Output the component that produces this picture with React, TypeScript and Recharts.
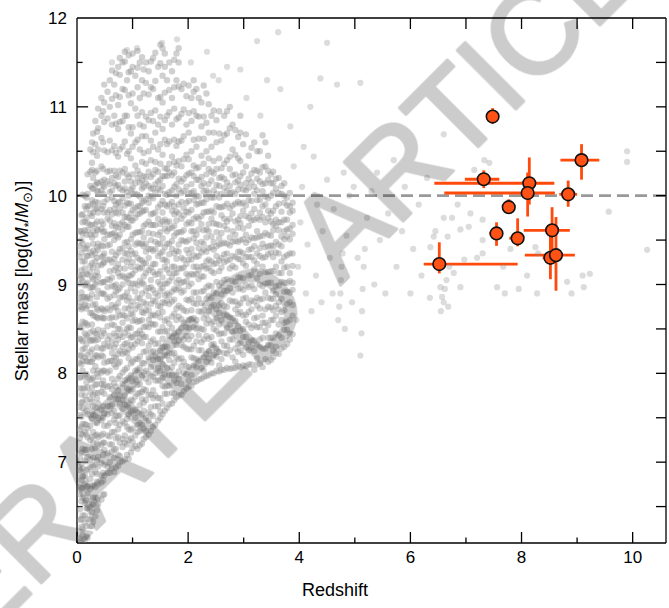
import { ScatterChart, Scatter, XAxis, YAxis, ErrorBar, ReferenceLine } from 'recharts'

const FONT = "'Liberation Sans', Arial, Helvetica, sans-serif"

// axes
const X_MIN = 0
const X_MAX = 10.6
const Y_MIN = 6.09
const Y_MAX = 12
const xLabelTicks = [0, 2, 4, 6, 8, 10]
const yLabelTicks = [7, 8, 9, 10, 11, 12]
const xFrameTicks = [1, 2, 3, 4, 5, 6, 7, 8, 9, 10]
const yFrameTicks = [6.5, 7, 7.5, 8, 8.5, 9, 9.5, 10, 10.5, 11, 11.5]

// background galaxies, low-redshift tail: [z, masses...]
const tailColumns = [
  [0.05, 6.14, 6.35, 6.47, 6.64, 6.72, 6.91, 7.05, 7.27, 7.37, 7.53, 7.62, 7.83, 7.95, 8.12, 8.2, 8.39, 8.53, 8.75, 8.85, 9.01, 9.1, 9.31, 9.43, 9.6],
  [0.1, 6.18, 6.25, 6.4, 6.6, 6.71, 6.84, 6.93, 7.15, 7.31, 7.43, 7.61, 7.68, 7.83, 8.03, 8.14, 8.27, 8.36, 8.58, 8.74, 8.86, 9.04, 9.11, 9.26, 9.46, 9.57, 9.7, 9.79, 10.01],
  [0.14, 6.13, 6.32, 6.4, 6.54, 6.75, 6.85, 7.02, 7.14, 7.34, 7.43, 7.56, 7.75, 7.83, 7.97, 8.18, 8.28, 8.45, 8.57, 8.77, 8.86, 8.99, 9.18, 9.26, 9.4, 9.61, 9.71, 9.88, 10.0],
  [0.19, 6.15, 6.36, 6.48, 6.65, 6.73, 6.92, 7.06, 7.28, 7.38, 7.54, 7.63, 7.84, 7.96, 8.13, 8.21, 8.4, 8.54, 8.76, 8.86, 9.02, 9.11, 9.32, 9.44, 9.61, 9.69, 9.88, 10.02, 10.24],
  [0.24, 6.28, 6.35, 6.5, 6.7, 6.81, 6.94, 7.03, 7.25, 7.41, 7.53, 7.71, 7.78, 7.93, 8.13, 8.24, 8.37, 8.46, 8.68, 8.84, 8.96, 9.14, 9.21, 9.36, 9.56, 9.67, 9.8, 9.89, 10.11, 10.27, 10.52],
  [0.29, 6.33, 6.52, 6.6, 6.74, 6.95, 7.05, 7.22, 7.34, 7.54, 7.63, 7.76, 7.95, 8.03, 8.17, 8.38, 8.48, 8.65, 8.77, 8.97, 9.06, 9.19, 9.38, 9.46, 9.6, 9.81, 9.91, 10.08, 10.2, 10.49, 10.7],
  [0.33, 6.39, 6.6, 6.72, 6.89, 6.97, 7.16, 7.3, 7.52, 7.62, 7.78, 7.87, 8.08, 8.2, 8.37, 8.45, 8.64, 8.78, 9.0, 9.1, 9.26, 9.35, 9.56, 9.68, 9.85, 9.93, 10.12, 10.26, 10.58, 10.84],
  [0.38, 6.53, 6.6, 6.75, 6.95, 7.06, 7.19, 7.28, 7.5, 7.66, 7.78, 7.96, 8.03, 8.18, 8.38, 8.49, 8.62, 8.71, 8.93, 9.09, 9.21, 9.39, 9.46, 9.61, 9.81, 9.92, 10.05, 10.14, 10.52, 10.76, 10.98],
  [0.44, 6.58, 6.77, 6.85, 6.99, 7.2, 7.3, 7.47, 7.59, 7.79, 7.88, 8.01, 8.2, 8.28, 8.42, 8.63, 8.73, 8.9, 9.02, 9.22, 9.31, 9.44, 9.63, 9.71, 9.85, 10.06, 10.16, 10.33, 10.65, 10.9, 11.1],
  [0.49, 6.64, 6.85, 6.97, 7.14, 7.22, 7.41, 7.55, 7.77, 7.87, 8.03, 8.12, 8.33, 8.45, 8.62, 8.7, 8.89, 9.03, 9.25, 9.35, 9.51, 9.6, 9.81, 9.93, 10.1, 10.18, 10.51, 10.83, 11.05, 11.25],
]

// tail, in-between streaks
const tailColumnsB = [
  [0.08, 6.11, 6.27, 6.36, 6.56, 6.7, 6.8, 6.98, 7.11, 7.32, 7.4, 7.51, 7.67, 7.76, 7.96, 8.1, 8.2, 8.38, 8.51, 8.72, 8.8, 8.91, 9.07, 9.16, 9.36, 9.5, 9.6, 9.78],
  [0.17, 6.16, 6.28, 6.48, 6.57, 6.72, 6.91, 7.01, 7.14, 7.31, 7.42, 7.58, 7.7, 7.9, 7.99, 8.14, 8.33, 8.43, 8.56, 8.73, 8.84, 9.0, 9.12, 9.32, 9.41, 9.56, 9.75, 9.85, 9.98],
  [0.27, 6.28, 6.44, 6.53, 6.73, 6.87, 6.97, 7.15, 7.28, 7.49, 7.57, 7.68, 7.84, 7.93, 8.13, 8.27, 8.37, 8.55, 8.68, 8.89, 8.97, 9.08, 9.24, 9.33, 9.53, 9.67, 9.77, 9.95, 10.08, 10.29, 10.37, 10.6],
  [0.36, 6.46, 6.58, 6.78, 6.87, 7.02, 7.21, 7.31, 7.44, 7.61, 7.72, 7.88, 8.0, 8.2, 8.29, 8.44, 8.63, 8.73, 8.86, 9.03, 9.14, 9.3, 9.42, 9.62, 9.71, 9.86, 10.05, 10.15, 10.28, 10.45, 10.72],
  [0.47, 6.63, 6.79, 6.88, 7.08, 7.22, 7.32, 7.5, 7.63, 7.84, 7.92, 8.03, 8.19, 8.28, 8.48, 8.62, 8.72, 8.9, 9.03, 9.24, 9.32, 9.43, 9.59, 9.68, 9.88, 10.02, 10.12, 10.3, 10.6, 10.95],
]

// background galaxies, main body z ~ 0.5-3.9
const coreColumns = [
  [0.55, 6.88, 6.95, 7.1, 7.3, 7.41, 7.54, 7.63, 7.85, 8.01, 8.13, 8.31, 8.38, 8.53, 8.73, 8.84, 8.97, 9.06, 9.28, 9.44, 9.56, 9.74, 9.81, 9.96, 10.16, 10.27, 10.49, 10.87, 11.17],
  [0.63, 6.93, 7.12, 7.2, 7.34, 7.55, 7.65, 7.82, 7.94, 8.14, 8.23, 8.36, 8.55, 8.63, 8.77, 8.98, 9.08, 9.25, 9.37, 9.57, 9.66, 9.79, 9.98, 10.06, 10.2, 10.51, 10.8, 11.09, 11.41],
  [0.7, 6.94, 7.15, 7.27, 7.44, 7.52, 7.71, 7.85, 8.07, 8.17, 8.33, 8.42, 8.63, 8.75, 8.92, 9.0, 9.19, 9.33, 9.55, 9.65, 9.81, 9.9, 10.11, 10.23, 10.48, 10.81, 11.13, 11.38],
  [0.77, 7.0, 7.07, 7.22, 7.42, 7.53, 7.66, 7.75, 7.97, 8.13, 8.25, 8.43, 8.5, 8.65, 8.85, 8.96, 9.09, 9.18, 9.4, 9.56, 9.68, 9.86, 9.93, 10.08, 10.28, 10.52, 10.83, 11.11, 11.36, 11.55],
  [0.86, 7.03, 7.22, 7.3, 7.44, 7.65, 7.75, 7.92, 8.04, 8.24, 8.33, 8.46, 8.65, 8.73, 8.87, 9.08, 9.18, 9.35, 9.47, 9.67, 9.76, 9.89, 10.08, 10.16, 10.3, 10.61, 10.9, 11.19, 11.51, 11.62],
  [0.93, 7.04, 7.25, 7.37, 7.54, 7.62, 7.81, 7.95, 8.17, 8.27, 8.43, 8.52, 8.73, 8.85, 9.02, 9.1, 9.29, 9.43, 9.65, 9.75, 9.91, 10.0, 10.21, 10.5, 10.77, 11.13, 11.39, 11.58],
  [1.0, 7.16, 7.23, 7.38, 7.58, 7.69, 7.82, 7.91, 8.13, 8.29, 8.41, 8.59, 8.66, 8.81, 9.01, 9.12, 9.25, 9.34, 9.56, 9.72, 9.84, 10.02, 10.09, 10.24, 10.55, 10.77, 11.15, 11.45, 11.6],
  [1.09, 7.15, 7.34, 7.42, 7.56, 7.77, 7.87, 8.04, 8.16, 8.36, 8.45, 8.58, 8.77, 8.85, 8.99, 9.2, 9.3, 9.47, 9.59, 9.79, 9.88, 10.01, 10.2, 10.28, 10.63, 10.9, 11.22, 11.44, 11.63],
  [1.17, 7.21, 7.42, 7.54, 7.71, 7.79, 7.98, 8.12, 8.34, 8.44, 8.6, 8.69, 8.9, 9.02, 9.19, 9.27, 9.46, 9.6, 9.82, 9.92, 10.08, 10.17, 10.38, 10.67, 10.94, 11.3, 11.56],
  [1.24, 7.28, 7.35, 7.5, 7.7, 7.81, 7.94, 8.03, 8.25, 8.41, 8.53, 8.71, 8.78, 8.93, 9.13, 9.24, 9.37, 9.46, 9.68, 9.84, 9.96, 10.14, 10.21, 10.36, 10.67, 10.89, 11.27, 11.5],
  [1.33, 7.35, 7.54, 7.62, 7.76, 7.97, 8.07, 8.24, 8.36, 8.56, 8.65, 8.78, 8.97, 9.05, 9.19, 9.4, 9.5, 9.67, 9.79, 9.99, 10.08, 10.21, 10.4, 10.62, 10.93, 11.22, 11.51],
  [1.41, 7.42, 7.63, 7.75, 7.92, 8.0, 8.19, 8.33, 8.55, 8.65, 8.81, 8.9, 9.11, 9.23, 9.4, 9.48, 9.67, 9.81, 10.03, 10.13, 10.29, 10.38, 10.71, 10.96, 11.29, 11.61],
  [1.5, 7.5, 7.57, 7.72, 7.92, 8.03, 8.16, 8.25, 8.47, 8.63, 8.75, 8.93, 9.0, 9.15, 9.35, 9.46, 9.59, 9.68, 9.9, 10.06, 10.18, 10.36, 10.58, 10.89, 11.11, 11.49, 11.7],
  [1.58, 7.58, 7.77, 7.85, 7.99, 8.2, 8.3, 8.47, 8.59, 8.79, 8.88, 9.01, 9.2, 9.28, 9.42, 9.63, 9.73, 9.9, 10.02, 10.22, 10.31, 10.63, 10.85, 11.16, 11.45, 11.6],
  [1.66, 7.65, 7.86, 7.98, 8.15, 8.23, 8.42, 8.56, 8.78, 8.88, 9.04, 9.13, 9.34, 9.46, 9.63, 9.71, 9.9, 10.04, 10.26, 10.36, 10.61, 10.94, 11.19, 11.5],
  [1.75, 7.7, 7.77, 7.92, 8.12, 8.23, 8.36, 8.45, 8.67, 8.83, 8.95, 9.13, 9.2, 9.35, 9.55, 9.66, 9.79, 9.88, 10.1, 10.26, 10.38, 10.63, 10.98, 11.22, 11.53],
  [1.83, 7.75, 7.94, 8.02, 8.16, 8.37, 8.47, 8.64, 8.76, 8.96, 9.05, 9.18, 9.37, 9.45, 9.59, 9.8, 9.9, 10.07, 10.19, 10.39, 10.61, 10.88, 11.23, 11.5, 11.66],
  [1.92, 7.8, 8.01, 8.13, 8.3, 8.38, 8.57, 8.71, 8.93, 9.03, 9.19, 9.28, 9.49, 9.61, 9.78, 9.86, 10.05, 10.19, 10.41, 10.67, 10.97, 11.26],
  [2.01, 7.85, 7.92, 8.07, 8.27, 8.38, 8.51, 8.6, 8.82, 8.98, 9.1, 9.28, 9.35, 9.5, 9.7, 9.81, 9.94, 10.03, 10.25, 10.41, 10.71, 10.93, 11.24],
  [2.1, 7.9, 8.09, 8.17, 8.31, 8.52, 8.62, 8.79, 8.91, 9.11, 9.2, 9.33, 9.52, 9.6, 9.74, 9.95, 10.05, 10.22, 10.34, 10.63, 10.95, 11.17, 11.3],
  [2.19, 7.93, 8.14, 8.26, 8.43, 8.51, 8.7, 8.84, 9.06, 9.16, 9.32, 9.41, 9.62, 9.74, 9.91, 9.99, 10.18, 10.32, 10.64, 10.89, 11.1],
  [2.28, 7.96, 8.03, 8.18, 8.38, 8.49, 8.62, 8.71, 8.93, 9.09, 9.21, 9.39, 9.46, 9.61, 9.81, 9.92, 10.05, 10.14, 10.36, 10.64, 10.89, 11.24],
  [2.37, 7.98, 8.17, 8.25, 8.39, 8.6, 8.7, 8.87, 8.99, 9.19, 9.28, 9.41, 9.6, 9.68, 9.82, 10.03, 10.13, 10.3, 10.42, 10.71, 11.03],
  [2.46, 8.0, 8.21, 8.33, 8.5, 8.58, 8.77, 8.91, 9.13, 9.23, 9.39, 9.48, 9.69, 9.81, 9.98, 10.06, 10.25, 10.39, 10.71, 10.96],
  [2.56, 8.02, 8.09, 8.24, 8.44, 8.55, 8.68, 8.77, 8.99, 9.15, 9.27, 9.45, 9.52, 9.67, 9.87, 9.98, 10.11, 10.2, 10.42, 10.7, 10.95],
  [2.65, 8.04, 8.23, 8.31, 8.45, 8.66, 8.76, 8.93, 9.05, 9.25, 9.34, 9.47, 9.66, 9.74, 9.88, 10.09, 10.19, 10.36, 10.68, 10.9],
  [2.75, 8.05, 8.26, 8.38, 8.55, 8.63, 8.82, 8.96, 9.18, 9.28, 9.44, 9.53, 9.74, 9.86, 10.03, 10.11, 10.3, 10.44, 10.76, 11.0],
  [2.85, 8.06, 8.13, 8.28, 8.48, 8.59, 8.72, 8.81, 9.03, 9.19, 9.31, 9.49, 9.56, 9.71, 9.91, 10.02, 10.15, 10.24, 10.46, 10.74],
  [2.94, 8.07, 8.26, 8.34, 8.48, 8.69, 8.79, 8.96, 9.08, 9.28, 9.37, 9.5, 9.69, 9.77, 9.91, 10.12, 10.22, 10.39, 10.71, 10.9],
  [3.04, 8.08, 8.29, 8.41, 8.58, 8.66, 8.85, 8.99, 9.21, 9.31, 9.47, 9.56, 9.77, 9.89, 10.06, 10.14, 10.33, 10.69],
  [3.14, 8.1, 8.29, 8.37, 8.51, 8.72, 8.82, 8.99, 9.11, 9.31, 9.4, 9.53, 9.72, 9.8, 9.94, 10.15, 10.25, 10.54],
  [3.24, 8.1, 8.17, 8.32, 8.52, 8.63, 8.76, 8.85, 9.07, 9.23, 9.35, 9.53, 9.6, 9.75, 9.95, 10.06, 10.19, 10.28, 10.5],
  [3.34, 8.07, 8.28, 8.4, 8.57, 8.65, 8.84, 8.98, 9.2, 9.3, 9.46, 9.55, 9.76, 9.88, 10.05, 10.13, 10.32, 10.68],
  [3.44, 8.13, 8.32, 8.4, 8.54, 8.75, 8.85, 9.02, 9.14, 9.34, 9.43, 9.56, 9.75, 9.83, 9.97, 10.18, 10.28, 10.45],
  [3.53, 8.18, 8.25, 8.4, 8.6, 8.71, 8.84, 8.93, 9.15, 9.31, 9.43, 9.61, 9.68, 9.83, 10.03, 10.14, 10.27],
  [3.63, 8.22, 8.43, 8.55, 8.72, 8.8, 8.99, 9.13, 9.35, 9.45, 9.61, 9.7, 9.91, 10.03, 10.2],
  [3.73, 8.3, 8.49, 8.57, 8.71, 8.92, 9.02, 9.19, 9.31, 9.51, 9.6, 9.73, 9.92, 10.0, 10.14],
  [3.83, 8.38, 8.45, 8.6, 8.8, 8.91, 9.04, 9.13, 9.35, 9.51, 9.63, 9.81, 9.88, 10.03],
]

// main body, in-between streaks
const coreColumnsB = [
  [0.59, 6.88, 7.0, 7.2, 7.29, 7.44, 7.63, 7.73, 7.86, 8.03, 8.14, 8.3, 8.42, 8.62, 8.71, 8.86, 9.05, 9.15, 9.28, 9.45, 9.56, 9.72, 9.84, 10.04, 10.13, 10.28, 10.62, 11.0, 11.3],
  [0.67, 6.89, 7.05, 7.14, 7.34, 7.48, 7.58, 7.76, 7.89, 8.1, 8.18, 8.29, 8.45, 8.54, 8.74, 8.88, 8.98, 9.16, 9.29, 9.5, 9.58, 9.69, 9.85, 9.94, 10.14, 10.28, 10.56, 10.9, 11.25],
  [0.74, 6.96, 7.08, 7.28, 7.37, 7.52, 7.71, 7.81, 7.94, 8.11, 8.22, 8.38, 8.5, 8.7, 8.79, 8.94, 9.13, 9.23, 9.36, 9.53, 9.64, 9.8, 9.92, 10.12, 10.21, 10.44, 10.75, 11.02, 11.45],
  [0.82, 7.01, 7.17, 7.26, 7.46, 7.6, 7.7, 7.88, 8.01, 8.22, 8.3, 8.41, 8.57, 8.66, 8.86, 9.0, 9.1, 9.28, 9.41, 9.62, 9.7, 9.81, 9.97, 10.06, 10.26, 10.55, 10.84, 11.2, 11.5],
  [0.9, 7.08, 7.2, 7.4, 7.49, 7.64, 7.83, 7.93, 8.06, 8.23, 8.34, 8.5, 8.62, 8.82, 8.91, 9.06, 9.25, 9.35, 9.48, 9.65, 9.76, 9.92, 10.04, 10.24, 10.47, 10.9, 11.3],
  [0.97, 7.11, 7.27, 7.36, 7.56, 7.7, 7.8, 7.98, 8.11, 8.32, 8.4, 8.51, 8.67, 8.76, 8.96, 9.1, 9.2, 9.38, 9.51, 9.72, 9.8, 9.91, 10.07, 10.16, 10.42, 10.7, 11.04, 11.4],
  [1.05, 7.18, 7.3, 7.5, 7.59, 7.74, 7.93, 8.03, 8.16, 8.33, 8.44, 8.6, 8.72, 8.92, 9.01, 9.16, 9.35, 9.45, 9.58, 9.75, 9.86, 10.02, 10.14, 10.34, 10.6, 10.98, 11.35],
  [1.13, 7.19, 7.35, 7.44, 7.64, 7.78, 7.88, 8.06, 8.19, 8.4, 8.48, 8.59, 8.75, 8.84, 9.04, 9.18, 9.28, 9.46, 9.59, 9.8, 9.88, 9.99, 10.15, 10.24, 10.52, 10.8, 11.1, 11.5],
  [1.2, 7.26, 7.38, 7.58, 7.67, 7.82, 8.01, 8.11, 8.24, 8.41, 8.52, 8.68, 8.8, 9.0, 9.09, 9.24, 9.43, 9.53, 9.66, 9.83, 9.94, 10.1, 10.22, 10.48, 10.78, 11.15, 11.42],
  [1.29, 7.31, 7.47, 7.56, 7.76, 7.9, 8.0, 8.18, 8.31, 8.52, 8.6, 8.71, 8.87, 8.96, 9.16, 9.3, 9.4, 9.58, 9.71, 9.92, 10.0, 10.11, 10.27, 10.5, 10.85, 11.14, 11.4],
  [1.37, 7.4, 7.52, 7.72, 7.81, 7.96, 8.15, 8.25, 8.38, 8.55, 8.66, 8.82, 8.94, 9.14, 9.23, 9.38, 9.57, 9.67, 9.8, 9.97, 10.08, 10.24, 10.55, 10.84, 11.2, 11.55],
  [1.46, 7.47, 7.63, 7.72, 7.92, 8.06, 8.16, 8.34, 8.47, 8.68, 8.76, 8.87, 9.03, 9.12, 9.32, 9.46, 9.56, 9.74, 9.87, 10.08, 10.16, 10.27, 10.52, 10.8, 11.1, 11.45],
  [1.54, 7.54, 7.66, 7.86, 7.95, 8.1, 8.29, 8.39, 8.52, 8.69, 8.8, 8.96, 9.08, 9.28, 9.37, 9.52, 9.71, 9.81, 9.94, 10.11, 10.22, 10.46, 10.75, 11.05, 11.35, 11.66],
  [1.62, 7.61, 7.77, 7.86, 8.06, 8.2, 8.3, 8.48, 8.61, 8.82, 8.9, 9.01, 9.17, 9.26, 9.46, 9.6, 9.7, 9.88, 10.01, 10.22, 10.3, 10.58, 10.9, 11.3],
  [1.71, 7.66, 7.78, 7.98, 8.07, 8.22, 8.41, 8.51, 8.64, 8.81, 8.92, 9.08, 9.2, 9.4, 9.49, 9.64, 9.83, 9.93, 10.06, 10.23, 10.44, 10.8, 11.1, 11.4],
  [1.79, 7.73, 7.89, 7.98, 8.18, 8.32, 8.42, 8.6, 8.73, 8.94, 9.02, 9.13, 9.29, 9.38, 9.58, 9.72, 9.82, 10.0, 10.13, 10.34, 10.56, 10.86, 11.3, 11.6],
  [1.88, 7.76, 7.88, 8.08, 8.17, 8.32, 8.51, 8.61, 8.74, 8.91, 9.02, 9.18, 9.3, 9.5, 9.59, 9.74, 9.93, 10.03, 10.16, 10.33, 10.62, 10.92, 11.2],
  [1.97, 7.83, 7.99, 8.08, 8.28, 8.42, 8.52, 8.7, 8.83, 9.04, 9.12, 9.23, 9.39, 9.48, 9.68, 9.82, 9.92, 10.1, 10.23, 10.46, 10.8, 11.12],
  [2.06, 7.86, 7.98, 8.18, 8.27, 8.42, 8.61, 8.71, 8.84, 9.01, 9.12, 9.28, 9.4, 9.6, 9.69, 9.84, 10.03, 10.13, 10.26, 10.5, 10.84, 11.1],
  [2.15, 7.91, 8.07, 8.16, 8.36, 8.5, 8.6, 8.78, 8.91, 9.12, 9.2, 9.31, 9.47, 9.56, 9.76, 9.9, 10.0, 10.18, 10.31, 10.55, 10.9, 11.2],
  [2.24, 7.94, 8.06, 8.26, 8.35, 8.5, 8.69, 8.79, 8.92, 9.09, 9.2, 9.36, 9.48, 9.68, 9.77, 9.92, 10.11, 10.21, 10.45, 10.78, 11.05],
  [2.33, 7.97, 8.13, 8.22, 8.42, 8.56, 8.66, 8.84, 8.97, 9.18, 9.26, 9.37, 9.53, 9.62, 9.82, 9.96, 10.06, 10.24, 10.5, 10.82, 11.15],
  [2.42, 8.0, 8.12, 8.32, 8.41, 8.56, 8.75, 8.85, 8.98, 9.15, 9.26, 9.42, 9.54, 9.74, 9.83, 9.98, 10.17, 10.27, 10.55, 10.9],
  [2.51, 8.03, 8.19, 8.28, 8.48, 8.62, 8.72, 8.9, 9.03, 9.24, 9.32, 9.43, 9.59, 9.68, 9.88, 10.02, 10.12, 10.3, 10.6, 10.85],
  [2.6, 8.04, 8.16, 8.36, 8.45, 8.6, 8.79, 8.89, 9.02, 9.19, 9.3, 9.46, 9.58, 9.78, 9.87, 10.02, 10.21, 10.31, 10.62],
  [2.7, 8.06, 8.22, 8.31, 8.51, 8.65, 8.75, 8.93, 9.06, 9.27, 9.35, 9.46, 9.62, 9.71, 9.91, 10.05, 10.15, 10.4, 10.7, 10.95],
  [2.8, 8.06, 8.18, 8.38, 8.47, 8.62, 8.81, 8.91, 9.04, 9.21, 9.32, 9.48, 9.6, 9.8, 9.89, 10.04, 10.23, 10.52, 10.8],
  [2.9, 8.08, 8.24, 8.33, 8.53, 8.67, 8.77, 8.95, 9.08, 9.29, 9.37, 9.48, 9.64, 9.73, 9.93, 10.07, 10.17, 10.42, 10.66],
  [2.99, 8.09, 8.21, 8.41, 8.5, 8.65, 8.84, 8.94, 9.07, 9.24, 9.35, 9.51, 9.63, 9.83, 9.92, 10.07, 10.26, 10.58],
  [3.09, 8.1, 8.26, 8.35, 8.55, 8.69, 8.79, 8.97, 9.1, 9.31, 9.39, 9.5, 9.66, 9.75, 9.95, 10.09, 10.19, 10.45],
  [3.19, 8.04, 8.25, 8.37, 8.54, 8.62, 8.81, 8.95, 9.17, 9.27, 9.43, 9.52, 9.73, 9.85, 10.02, 10.1, 10.29, 10.6],
  [3.29, 8.11, 8.3, 8.38, 8.52, 8.73, 8.83, 9.0, 9.12, 9.32, 9.41, 9.54, 9.73, 9.81, 9.95, 10.16, 10.26, 10.5],
  [3.39, 8.16, 8.28, 8.48, 8.57, 8.72, 8.91, 9.01, 9.14, 9.31, 9.42, 9.58, 9.7, 9.9, 9.99, 10.14, 10.33, 10.6],
  [3.49, 8.15, 8.31, 8.4, 8.6, 8.74, 8.84, 9.02, 9.15, 9.36, 9.44, 9.55, 9.71, 9.8, 10.0, 10.14, 10.24],
  [3.58, 8.23, 8.3, 8.45, 8.65, 8.76, 8.89, 8.98, 9.2, 9.36, 9.48, 9.66, 9.73, 9.88, 10.08, 10.19],
  [3.68, 8.28, 8.4, 8.6, 8.69, 8.84, 9.03, 9.13, 9.26, 9.43, 9.54, 9.7, 9.82, 10.02, 10.11],
  [3.78, 8.33, 8.49, 8.58, 8.78, 8.92, 9.02, 9.2, 9.33, 9.54, 9.62, 9.73, 9.89, 9.98],
  [3.88, 8.44, 8.65, 8.77, 8.94, 9.02, 9.21, 9.35, 9.57, 9.67, 9.83, 9.92],
]

// sparse high-mass outliers at z < 4: [z, mass]
const upperCloud = [
  [0.63, 11.5], [0.9, 11.64], [1.08, 11.66], [1.53, 11.72], [1.8, 11.76], [2.34, 11.62],
  [3.24, 11.74], [3.62, 11.84], [2.94, 11.42], [3.42, 11.3], [3.66, 11.2], [3.84, 10.78],
  [3.9, 10.33], [2.55, 11.3], [2.7, 11.45], [3.05, 11.1], [3.3, 10.9], [2.05, 11.5], [2.45, 11.35],
]

// sparse galaxies beyond z ~ 4: [z, mass]
const highZCloud = [
  [3.95, 8.6], [3.98, 9.2], [4.02, 9.7], [4.05, 10.1], [4.08, 10.55], [4.12, 8.9], [4.15, 9.45],
  [4.2, 11.0], [4.22, 8.7], [4.26, 10.44], [4.3, 9.1], [4.32, 9.9], [4.38, 11.32], [4.4, 8.8],
  [4.42, 9.6], [4.5, 10.18], [4.5, 11.72], [4.55, 9.3], [4.6, 8.9], [4.62, 9.85], [4.68, 11.25],
  [4.7, 8.6], [4.72, 8.75], [4.74, 8.9], [4.75, 9.05], [4.76, 9.2], [4.78, 9.35], [4.8, 10.26],
  [4.82, 8.5], [4.85, 9.55], [4.9, 10.0], [4.95, 8.8], [4.98, 10.1], [5.05, 9.3], [5.1, 8.2],
  [5.12, 8.45], [5.13, 8.7], [5.14, 8.95], [5.16, 9.2], [5.18, 9.4], [5.1, 11.27], [5.22, 9.75],
  [5.3, 10.05], [5.35, 9.0], [5.4, 10.26], [5.45, 9.5], [5.55, 8.9], [5.6, 9.8], [5.7, 10.4],
  [5.75, 9.2], [5.85, 9.6], [5.9, 10.1], [6.0, 8.9], [6.05, 9.4], [6.15, 9.9], [6.2, 9.1],
  [6.3, 10.2], [6.35, 8.85], [6.36, 9.42], [6.42, 9.54], [6.45, 9.6], [6.54, 8.97], [6.55, 8.7],
  [6.57, 8.86], [6.6, 8.8], [6.6, 9.75], [6.6, 10.69], [6.62, 8.95], [6.65, 9.05], [6.67, 9.54],
  [6.68, 8.75], [6.7, 9.2], [6.75, 9.75], [6.78, 9.13], [6.85, 9.9], [6.9, 8.97], [6.9, 9.62],
  [6.97, 9.28], [7.05, 9.65], [7.08, 9.8], [7.15, 10.29], [7.2, 9.3], [7.3, 9.73], [7.3, 9.5],
  [7.3, 9.35], [7.33, 10.4], [7.42, 10.37], [7.56, 8.97], [7.67, 9.2], [7.7, 8.9], [7.8, 9.4],
  [7.95, 8.95], [8.1, 9.1], [8.25, 9.42], [8.28, 8.9], [8.3, 9.35], [8.82, 9.03], [8.9, 8.9],
  [9.1, 9.1], [9.12, 8.97], [9.23, 9.12], [9.57, 9.82], [9.9, 10.5], [9.9, 10.38], [10.26, 9.39],
]

// JWST candidates (orange)
const jwstZ = [7.48, 9.08, 7.32, 8.14, 8.11, 8.84, 7.77, 7.55, 7.93, 8.55, 8.52, 8.62, 6.52]
const jwstMass = [10.89, 10.4, 10.185, 10.14, 10.03, 10.015, 9.87, 9.575, 9.52, 9.61, 9.3, 9.33, 9.23]
const jwstZErr = [
  [0.03, 0.03], [0.38, 0.32], [0.34, 0.28], [1.71, 0.45], [1.5, 0.49], [0.16, 0.16], [0.03, 0.03],
  [0.13, 0.1], [0.15, 0.07], [0.51, 0.32], [0.14, 0.04], [0.56, 0.34], [0.28, 1.41],
]
const jwstMassErr = [
  [0.08, 0.095], [0.22, 0.18], [0.1, 0.1], [0.24, 0.29], [0.265, 0.23], [0.14, 0.155], [0.07, 0.09],
  [0.14, 0.125], [0.09, 0.225], [0.26, 0.26], [0.24, 0.25], [0.4, 0.43], [0.105, 0.245],
]

const columnsToPoints = (cols: number[][]) => cols.flatMap(([z, ...ms]) => ms.map((m) => ({ z, m })))
const pairsToPoints = (pairs: number[][]) => pairs.map(([z, m]) => ({ z, m }))

const denseData = [
  ...columnsToPoints(tailColumns),
  ...columnsToPoints(tailColumnsB),
  ...columnsToPoints(coreColumns),
  ...columnsToPoints(coreColumnsB),
]
const sparseData = [...pairsToPoints(upperCloud), ...pairsToPoints(highZCloud)]

const jwstData = jwstZ.map((z, i) => ({ z, m: jwstMass[i], zErr: jwstZErr[i], mErr: jwstMassErr[i] }))

// inward tick lengths (11px major, 5.5px minor at this plot size)
const TICK_M_MAJOR = 0.124
const TICK_M_MINOR = 0.062
const TICK_Z_MAJOR = 0.2
const TICK_Z_MINOR = 0.1
const TICK_Z_RIGHT = 0.18

const AXIS = { stroke: '#000', strokeWidth: 1.3 }
const TICKTEXT = { fontSize: 17, fill: '#000', fontFamily: FONT }

const DenseDot = (p: any) => <circle cx={p.cx} cy={p.cy} r={3.2} fill="#8a8a8a" fillOpacity={0.4} />
const SparseDot = (p: any) => <circle cx={p.cx} cy={p.cy} r={3.1} fill="#8a8a8a" fillOpacity={0.3} />

const JwstDot = (p: any) => (
  <circle cx={p.cx} cy={p.cy} r={6.3} fill="#ff5214" stroke="#111" strokeWidth={1.6} />
)

const frameLine = (key: string, segment: { x: number; y: number }[]) => (
  <ReferenceLine
    key={key}
    xAxisId="x"
    yAxisId="y"
    segment={segment}
    stroke="#000"
    strokeWidth={1.3}
    ifOverflow="visible"
  />
)

export default function App() {
  const bottomTicks = [0, 1, 2, 3, 4, 5, 6, 7, 8, 9, 10].map((v) =>
    frameLine(`b${v}`, [
      { x: v, y: Y_MIN },
      { x: v, y: Y_MIN + (v % 2 === 0 ? TICK_M_MAJOR : TICK_M_MINOR) },
    ]),
  )
  const topTicks = xFrameTicks.map((v) =>
    frameLine(`t${v}`, [
      { x: v, y: Y_MAX },
      { x: v, y: Y_MAX - TICK_M_MAJOR },
    ]),
  )
  const leftTicks = yFrameTicks.map((v) =>
    frameLine(`l${v}`, [
      { x: X_MIN, y: v },
      { x: X_MIN + (Number.isInteger(v) ? TICK_Z_MAJOR : TICK_Z_MINOR), y: v },
    ]),
  )
  const rightTicks = yFrameTicks.map((v) =>
    frameLine(`r${v}`, [
      { x: X_MAX, y: v },
      { x: X_MAX - TICK_Z_RIGHT, y: v },
    ]),
  )

  return (
    <div style={{ position: 'relative', width: 669, height: 608, fontFamily: FONT, background: '#fff' }}>
      <style>{'body{margin:0}'}</style>
      <ScatterChart width={669} height={608} margin={{ top: 18, right: 3, bottom: 0, left: 0 }}>
        <XAxis
          xAxisId="x"
          type="number"
          dataKey="z"
          domain={[X_MIN, X_MAX]}
          allowDataOverflow
          ticks={xLabelTicks}
          interval={0}
          height={65}
          tickSize={-11}
          tickMargin={19}
          tickLine={false}
          axisLine={AXIS}
          tick={TICKTEXT}
        />
        <YAxis
          yAxisId="y"
          type="number"
          dataKey="m"
          domain={[Y_MIN, Y_MAX]}
          allowDataOverflow
          ticks={yLabelTicks}
          interval={0}
          width={77}
          tickSize={-11}
          tickMargin={21}
          tickLine={false}
          axisLine={AXIS}
          tick={TICKTEXT}
        />
        <Scatter xAxisId="x" yAxisId="y" data={denseData} shape={DenseDot} isAnimationActive={false} />
        <Scatter xAxisId="x" yAxisId="y" data={sparseData} shape={SparseDot} isAnimationActive={false} />
        <ReferenceLine
          xAxisId="x"
          yAxisId="y"
          y={10}
          stroke="#999"
          strokeWidth={2.6}
          strokeDasharray="12 6"
        />
        {frameLine('top', [
          { x: X_MIN, y: Y_MAX },
          { x: X_MAX, y: Y_MAX },
        ])}
        {frameLine('right', [
          { x: X_MAX, y: Y_MIN },
          { x: X_MAX, y: Y_MAX },
        ])}
        {bottomTicks}
        {topTicks}
        {leftTicks}
        {rightTicks}
        <Scatter xAxisId="x" yAxisId="y" data={jwstData} shape={JwstDot} isAnimationActive={false}>
          <ErrorBar dataKey="zErr" direction="x" width={0} stroke="#ff4a0c" strokeWidth={2.8} isAnimationActive={false} />
          <ErrorBar dataKey="mErr" direction="y" width={0} stroke="#ff4a0c" strokeWidth={2.8} isAnimationActive={false} />
        </Scatter>
      </ScatterChart>
      <svg
        width={669}
        height={608}
        style={{ position: 'absolute', left: 0, top: 0, pointerEvents: 'none' }}
      >
        <text x={335} y={596} textAnchor="middle" fontSize={18} fontFamily={FONT} fill="#000">
          Redshift
        </text>
        <text transform="translate(28,281) rotate(-90)" textAnchor="middle" fontSize={18} fontFamily={FONT} fill="#000">
          Stellar mass [log(<tspan fontStyle="italic">M</tspan>
          <tspan fontSize={12} dy={5}>*</tspan>
          <tspan dy={-5}>/</tspan>
          <tspan fontStyle="italic">M</tspan>
          <tspan fontSize={13} dy={4}>⊙</tspan>
          <tspan dy={-4}>)]</tspan>
        </text>
        <g opacity={0.2} fill="#000" stroke="#000" strokeWidth={3} strokeLinejoin="round" fontSize={120} fontFamily={FONT}>
          <text transform="translate(340,285) rotate(-45)" textAnchor="start">
            ARTICLE PREVIEW
          </text>
          <text transform="translate(316,309) rotate(-45)" textAnchor="end">
            ACCELERATED
          </text>
        </g>
      </svg>
    </div>
  )
}
